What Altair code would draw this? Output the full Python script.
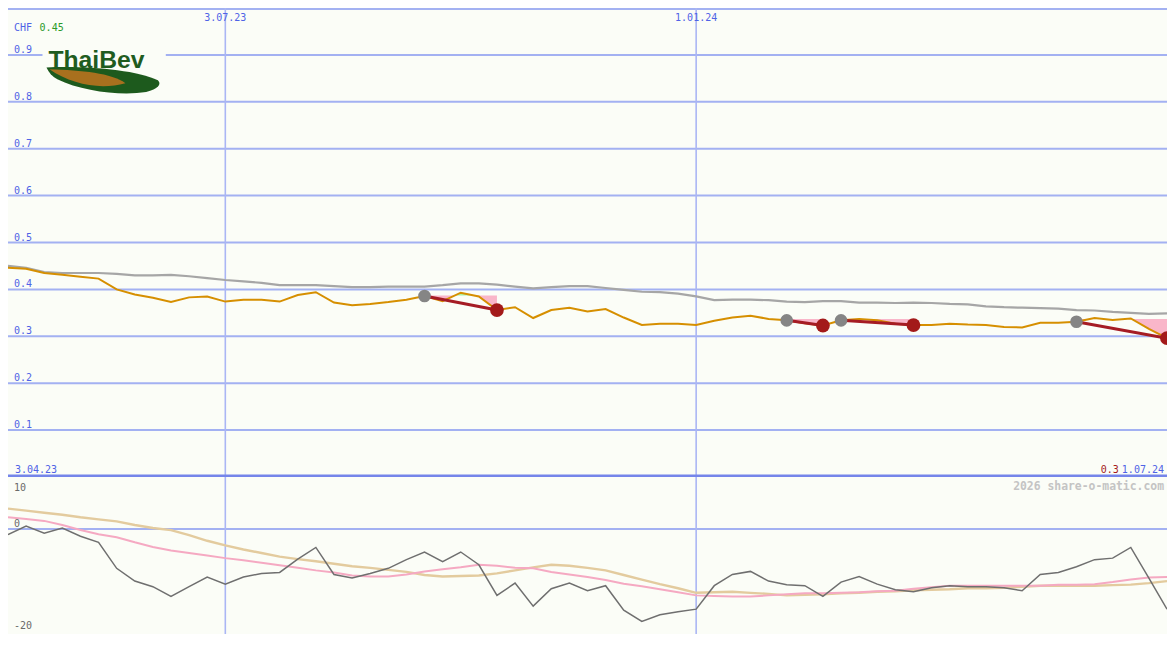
import altair as alt
import pandas as pd

W, H1, H2 = 1159, 469, 157
SX = W / 1175
SY = (H1 + H2) / 650

# ---------------- data ----------------
week_dates = list(pd.date_range("2023-04-10", "2024-07-01", freq="7D"))

price = [0.446, 0.444, 0.435, 0.431, 0.427, 0.423, 0.400, 0.389, 0.382, 0.373,
         0.383, 0.385, 0.374, 0.378, 0.378, 0.374, 0.388, 0.394, 0.372, 0.366,
         0.369, 0.373, 0.378, 0.386, 0.375, 0.393, 0.385, 0.356, 0.362, 0.339,
         0.356, 0.361, 0.353, 0.358, 0.340, 0.324, 0.327, 0.327, 0.324, 0.333,
         0.340, 0.344, 0.337, 0.334, 0.328, 0.323, 0.334, 0.337, 0.334, 0.327,
         0.324, 0.324, 0.327, 0.325, 0.324, 0.320, 0.319, 0.329, 0.329, 0.331,
         0.339, 0.335, 0.338, 0.316, 0.296]

average = [0.450, 0.446, 0.437, 0.435, 0.435, 0.435, 0.433, 0.430, 0.430, 0.431,
           0.428, 0.424, 0.420, 0.417, 0.414, 0.409, 0.409, 0.409, 0.407, 0.405,
           0.405, 0.406, 0.406, 0.406, 0.409, 0.413, 0.413, 0.410, 0.406, 0.402,
           0.405, 0.407, 0.407, 0.403, 0.399, 0.395, 0.394, 0.391, 0.385, 0.377,
           0.378, 0.378, 0.377, 0.374, 0.373, 0.375, 0.375, 0.372, 0.372, 0.371,
           0.372, 0.371, 0.369, 0.368, 0.364, 0.362, 0.361, 0.360, 0.359, 0.356,
           0.355, 0.352, 0.350, 0.348, 0.349]

osc_line = [-1.1, 0.6, -0.8, 0.2, -1.4, -2.6, -7.7, -10.2, -11.3, -13.2,
            -11.3, -9.4, -10.8, -9.4, -8.7, -8.5, -5.9, -3.6, -8.9, -9.6,
            -8.7, -7.7, -6.0, -4.5, -6.4, -4.5, -7.0, -13.0, -10.6, -15.1,
            -11.7, -10.6, -12.1, -11.1, -15.9, -18.1, -16.8, -16.2, -15.7, -11.1,
            -8.9, -8.3, -10.2, -10.9, -11.1, -13.2, -10.4, -9.3, -10.8, -11.9,
            -12.3, -11.5, -11.1, -11.3, -11.3, -11.5, -12.1, -8.9, -8.5, -7.4,
            -6.0, -5.7, -3.6, -9.6, -15.7]

osc_fast = [2.3, 1.95, 1.6, 0.8, -0.2, -1.0, -1.6, -2.6, -3.5, -4.2,
            -4.7, -5.2, -5.7, -6.1, -6.6, -7.1, -7.6, -8.1, -8.5, -9.1,
            -9.3, -9.3, -8.9, -8.3, -7.9, -7.5, -7.0, -7.2, -7.6, -7.7,
            -8.4, -8.9, -9.4, -10.0, -10.7, -11.2, -11.8, -12.4, -13.0, -13.1,
            -13.2, -13.2, -13.0, -12.8, -12.6, -12.6, -12.5, -12.4, -12.2, -12.1,
            -11.7, -11.4, -11.1, -11.1, -11.1, -11.1, -11.1, -11.1, -10.9, -10.9,
            -10.8, -10.4, -9.9, -9.5, -9.4]

osc_slow = [4.0, 3.6, 3.2, 2.8, 2.3, 1.9, 1.5, 0.8, 0.2, -0.2,
            -1.2, -2.3, -3.2, -4.0, -4.7, -5.4, -5.9, -6.3, -6.8, -7.3,
            -7.6, -8.0, -8.4, -9.0, -9.3, -9.2, -9.1, -8.7, -8.1, -7.5,
            -7.0, -7.2, -7.6, -8.1, -9.0, -9.9, -10.8, -11.6, -12.5, -12.4,
            -12.3, -12.5, -12.7, -13.0, -12.9, -12.8, -12.6, -12.5, -12.3, -12.2,
            -12.0, -11.9, -11.8, -11.6, -11.6, -11.5, -11.3, -11.1, -11.1, -11.1,
            -11.1, -11.0, -10.9, -10.6, -10.2]

trade_entry = [23, 43, 46, 59]
trade_exit = [27, 45, 50, 64]
trade_level = [0.387, 0.337, 0.337, 0.337]

grid_levels = [0.1, 0.2, 0.3, 0.4, 0.5, 0.6, 0.7, 0.8, 0.9]
top_level = [1.0]
price_ticks = [0.1, 0.2, 0.3, 0.4, 0.5, 0.6, 0.7, 0.8, 0.9]
price_tick_labels = ["0.1", "0.2", "0.3", "0.4", "0.5", "0.6", "0.7", "0.8", "0.9"]
osc_ticks = [0, -20]
osc_tick_labels = ["0", "-20"]
osc_top_tick = [10]
osc_top_label = ["10"]
date_ticks = [pd.Timestamp("2023-07-03"), pd.Timestamp("2024-01-01")]
date_tick_labels = ["3.07.23", "1.01.24"]

# ---------------- style ----------------
FONT = "DejaVu Sans Mono"
BG = "#fbfdf7"
BLUE = "#4f63e6"
GRID = "#a3b1f2"
VGRID = "#aab6f4"
DIVIDER = "#7585ea"
ORANGE = "#d68f00"
AVG = "#a6a6a6"
DARKRED = "#a51c24"
REDMARK = "#a31a1a"
GRAYMARK = "#858585"
PINK = "#f9b6c9"
GREEN = "#acf2a2"


def PX(x):
    return round(x * SX, 1)


def PY(y):
    return round(y * SY, 1)


def PY2(y):
    return round((y - 487) * SY, 1)


xs = alt.Scale(domain=[alt.DateTime(year=2023, month=4, date=10),
                       alt.DateTime(year=2024, month=7, date=1)])
X = alt.X("date:T", scale=xs, axis=None)
ys1 = alt.Scale(domain=[0, 1.0], nice=False, zero=False)
ys2 = alt.Scale(domain=[-20.57, 10.2], nice=False, zero=False)

series = pd.DataFrame({"date": week_dates, "price": price, "average": average,
                       "osc": osc_line, "fast": osc_fast, "slow": osc_slow})

# trade fills (with interpolated crossings of the level)
fill_rows, line_rows, entry_rows, exit_rows = [], [], [], []
for t, (a, b, lev) in enumerate(zip(trade_entry, trade_exit, trade_level)):
    for k in range(a, b + 1):
        p = price[k]
        fill_rows.append({"date": week_dates[k], "trade": t, "level": lev,
                          "lo": min(p, lev), "hi": max(p, lev)})
        if k < b:
            q = price[k + 1]
            if (p - lev) * (q - lev) < 0:
                f = (lev - p) / (q - p)
                d = week_dates[k] + (week_dates[k + 1] - week_dates[k]) * f
                fill_rows.append({"date": d, "trade": t, "level": lev,
                                  "lo": lev, "hi": lev})
    line_rows.append({"date": week_dates[a], "trade": t, "v": price[a]})
    line_rows.append({"date": week_dates[b], "trade": t, "v": price[b]})
    entry_rows.append({"date": week_dates[a], "v": price[a]})
    exit_rows.append({"date": week_dates[b], "v": price[b]})
fills = pd.DataFrame(fill_rows)
tlines = pd.DataFrame(line_rows)
entries = pd.DataFrame(entry_rows)
exits = pd.DataFrame(exit_rows)

one = pd.DataFrame({"a": [0]})

# ---------------- upper panel ----------------
grid = alt.Chart(pd.DataFrame({"v": grid_levels})).mark_rule(
    color=GRID, strokeWidth=2, clip=True).encode(y=alt.Y("v:Q", scale=ys1, axis=None))
top_rule = alt.Chart(pd.DataFrame({"v": top_level})).mark_rule(
    color=GRID, strokeWidth=4, clip=True).encode(y=alt.Y("v:Q", scale=ys1, axis=None))
divider = alt.Chart(pd.DataFrame({"v": [0.0]})).mark_rule(
    color=DIVIDER, strokeWidth=5, clip=True).encode(y=alt.Y("v:Q", scale=ys1, axis=None))
vrules = alt.Chart(pd.DataFrame({"date": date_ticks})).mark_rule(
    color=VGRID, strokeWidth=1.6, clip=True).encode(x=X)

logo_bg = alt.Chart(one).mark_rect(color=BG).encode(
    x=alt.value(PX(35)), x2=alt.value(PX(160)),
    y=alt.value(PY(40)), y2=alt.value(PY(57)))
# logo swoosh outlines (unit symbol space)
green_path = ("M -1.0 -0.228 C -0.368 -0.263 0.596 -0.193 0.982 0 "
              "C 1.053 0.07 0.982 0.158 0.772 0.21 "
              "C 0.333 0.28 -0.368 0.2 -0.807 -0.018 "
              "C -0.9 -0.07 -0.96 -0.14 -1.0 -0.228 Z")
brown_path = ("M -0.947 -0.193 C -0.368 -0.175 0.158 -0.123 0.404 0.053 "
              "C -0.018 0.175 -0.544 0.088 -0.947 -0.193 Z")
SW = (114 * SX) ** 2
swoosh_g = alt.Chart(one).mark_point(shape=green_path, size=SW, filled=True,
                                     color="#1d5a1d", opacity=1, strokeWidth=0).encode(
    x=alt.value(PX(96)), y=alt.value(PY(75)))
swoosh_b = alt.Chart(one).mark_point(shape=brown_path, size=SW, filled=True,
                                     color="#a8701e", opacity=1, strokeWidth=0).encode(
    x=alt.value(PX(96)), y=alt.value(PY(75)))
logo_text = alt.Chart(one).mark_text(text="ThaiBev", font="Liberation Sans",
                                     fontWeight="bold", fontSize=round(25 * SX, 1),
                                     color="#1f5c1f", align="left",
                                     baseline="alphabetic").encode(
    x=alt.value(PX(41)), y=alt.value(PY(62)))

avg_line = alt.Chart(series).mark_line(color=AVG, strokeWidth=2.2, clip=True).encode(
    x=X, y=alt.Y("average:Q", scale=ys1, axis=None))
pink_fill = alt.Chart(fills).mark_area(color=PINK, opacity=1, clip=True).encode(
    x=X, y=alt.Y("level:Q", scale=ys1, axis=None), y2="lo:Q", detail="trade:N")
green_fill = alt.Chart(fills).mark_area(color=GREEN, opacity=1, clip=True).encode(
    x=X, y=alt.Y("hi:Q", scale=ys1, axis=None), y2="level:Q", detail="trade:N")
price_line = alt.Chart(series).mark_line(color=ORANGE, strokeWidth=2, clip=True).encode(
    x=X, y=alt.Y("price:Q", scale=ys1, axis=None))
trade_line = alt.Chart(tlines).mark_line(color=DARKRED, strokeWidth=3, clip=True).encode(
    x=X, y=alt.Y("v:Q", scale=ys1, axis=None), detail="trade:N")
entry_pts = alt.Chart(entries).mark_circle(color=GRAYMARK, size=160, opacity=1,
                                           clip=True).encode(
    x=X, y=alt.Y("v:Q", scale=ys1, axis=None))
exit_pts = alt.Chart(exits).mark_circle(color=REDMARK, size=190, opacity=1,
                                        clip=True).encode(
    x=X, y=alt.Y("v:Q", scale=ys1, axis=None))

ylab = alt.Chart(pd.DataFrame({"v": price_ticks, "t": price_tick_labels})).mark_text(
    font=FONT, fontSize=10, color=BLUE, align="left", baseline="alphabetic", dy=-2).encode(
    x=alt.value(PX(6)), y=alt.Y("v:Q", scale=ys1, axis=None), text="t:N")
xlab = alt.Chart(pd.DataFrame({"date": date_ticks, "t": date_tick_labels})).mark_text(
    font=FONT, fontSize=10, color=BLUE, align="center", baseline="alphabetic").encode(
    x=X, y=alt.value(PY(13)), text="t:N")
chf = alt.Chart(one).mark_text(text="CHF", font=FONT, fontSize=10, color=BLUE,
                               align="left", baseline="alphabetic").encode(
    x=alt.value(PX(6)), y=alt.value(PY(24)))
chf_v = alt.Chart(one).mark_text(text="0.45", font=FONT, fontSize=10, color="#2a9a2a",
                                 align="left", baseline="alphabetic").encode(
    x=alt.value(PX(32)), y=alt.value(PY(24)))
start_lab = alt.Chart(one).mark_text(text="3.04.23", font=FONT, fontSize=10, color=BLUE,
                                     align="left", baseline="alphabetic").encode(
    x=alt.value(PX(7)), y=alt.value(PY(483)))
end_lab = alt.Chart(one).mark_text(text="1.07.24", font=FONT, fontSize=10, color=BLUE,
                                   align="right", baseline="alphabetic").encode(
    x=alt.value(PX(1172)), y=alt.value(PY(483)))
last_lab = alt.Chart(one).mark_text(text="0.3", font=FONT, fontSize=10, color=REDMARK,
                                    align="right", baseline="alphabetic").encode(
    x=alt.value(PX(1126)), y=alt.value(PY(483)))

upper = alt.layer(
    grid, top_rule, vrules, divider, logo_bg, swoosh_g, swoosh_b, logo_text,
    avg_line, pink_fill, green_fill, price_line, trade_line, entry_pts, exit_pts,
    ylab, xlab, chf, chf_v, start_lab, end_lab, last_lab,
).properties(width=W, height=H1)

# ---------------- lower panel ----------------
zero_rule = alt.Chart(pd.DataFrame({"v": [0]})).mark_rule(
    color=GRID, strokeWidth=2, clip=True).encode(y=alt.Y("v:Q", scale=ys2, axis=None))
slow_line = alt.Chart(series).mark_line(color="#e3cb9e", strokeWidth=2.4, clip=True).encode(
    x=X, y=alt.Y("slow:Q", scale=ys2, axis=None))
fast_line = alt.Chart(series).mark_line(color="#f5a9c2", strokeWidth=2, clip=True).encode(
    x=X, y=alt.Y("fast:Q", scale=ys2, axis=None))
osc_l = alt.Chart(series).mark_line(color="#6f6f6f", strokeWidth=1.5, clip=True).encode(
    x=X, y=alt.Y("osc:Q", scale=ys2, axis=None))
olab = alt.Chart(pd.DataFrame({"v": osc_ticks, "t": osc_tick_labels})).mark_text(
    font=FONT, fontSize=10, color="#6a6a6a", align="left", baseline="alphabetic", dy=-2).encode(
    x=alt.value(PX(6)), y=alt.Y("v:Q", scale=ys2, axis=None), text="t:N")
olab_top = alt.Chart(pd.DataFrame({"v": osc_top_tick, "t": osc_top_label})).mark_text(
    font=FONT, fontSize=10, color="#6a6a6a", align="left", baseline="top", dy=5).encode(
    x=alt.value(PX(6)), y=alt.Y("v:Q", scale=ys2, axis=None), text="t:N")
wmark = alt.Chart(one).mark_text(text="2026 share-o-matic.com", font=FONT,
                                 fontSize=round(11.6 * SX, 1), fontWeight="bold",
                                 color="#c4c4c4", align="right",
                                 baseline="alphabetic").encode(
    x=alt.value(PX(1172)), y=alt.value(PY2(500)))

lower = alt.layer(
    zero_rule, vrules, slow_line, fast_line, osc_l, olab, olab_top, wmark,
).properties(width=W, height=H2)

chart = alt.vconcat(upper, lower, spacing=0).properties(
    background=BG, padding=0,
).configure_view(stroke=None)

chart.save("out.html", embed_options={"renderer": "svg", "actions": False})
